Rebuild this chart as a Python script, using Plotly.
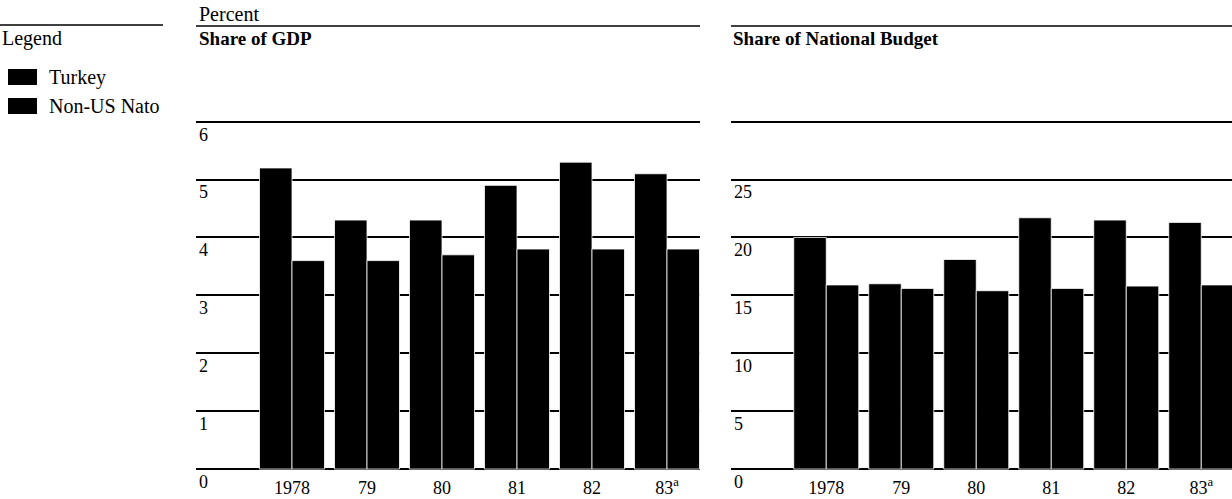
import plotly.graph_objects as go

years = ["1978", "79", "80", "81", "82", "83<sup>a</sup>"]
gdp_turkey = [5.2, 4.3, 4.3, 4.9, 5.3, 5.1]
gdp_nato = [3.6, 3.6, 3.7, 3.8, 3.8, 3.8]
budget_turkey = [20.0, 16.0, 18.1, 21.7, 21.5, 21.3]
budget_nato = [15.9, 15.6, 15.4, 15.6, 15.8, 15.9]

gdp_ticks = [0, 1, 2, 3, 4, 5, 6]
gdp_ticktext = ["0", "1", "2", "3", "4", "5", "6"]
budget_ticks = [0, 5, 10, 15, 20, 25]
budget_ticktext = ["0", "5", "10", "15", "20", "25"]
budget_unlabeled_grid = [30]

series_names = ["Turkey", "Non-US Nato"]

W, H = 1232, 499
FONT = "Liberation Serif"

fig = go.Figure()
bar_line = dict(color="white", width=0.8)
fig.add_trace(go.Bar(x=years, y=gdp_turkey, name=series_names[0], marker=dict(color="black", line=bar_line),
                     xaxis="x", yaxis="y"))
fig.add_trace(go.Bar(x=years, y=gdp_nato, name=series_names[1], marker=dict(color="black", line=bar_line),
                     xaxis="x", yaxis="y"))
fig.add_trace(go.Bar(x=years, y=budget_turkey, name=series_names[0], marker=dict(color="black", line=bar_line),
                     xaxis="x2", yaxis="y2"))
fig.add_trace(go.Bar(x=years, y=budget_nato, name=series_names[1], marker=dict(color="black", line=bar_line),
                     xaxis="x2", yaxis="y2"))

ydom = [1 - 470.8 / H, 1 - 119.9 / H]
common_x = dict(type="category", showgrid=False, zeroline=False, showline=False, ticks="",
                tickfont=dict(family=FONT, size=18, color="black"), automargin=False,
                ticklabelstandoff=4)
common_y = dict(showgrid=True, gridcolor="black", gridwidth=1.5, zeroline=False, showline=False,
                ticks="", ticklabelposition="inside bottom", ticklabeloverflow="allow",
                tickfont=dict(family=FONT, size=18, color="black"), automargin=False)

# legend drawn as swatches + labels (paper coordinates)
legend_shapes = []
legend_annos = [dict(text="Legend", x=0, y=1 - 39 / H, xref="paper", yref="paper",
                     xanchor="left", yanchor="middle", showarrow=False,
                     font=dict(family=FONT, size=20, color="black"))]
for i, nm in enumerate(series_names):
    yc = 77 + i * 29
    legend_shapes.append(dict(type="rect", xref="paper", yref="paper",
                              x0=8 / W, x1=37 / W, y0=1 - (yc + 8) / H, y1=1 - (yc - 8) / H,
                              fillcolor="black", line=dict(width=0)))
    legend_annos.append(dict(text=nm, x=47 / W, y=1 - yc / H, xref="paper", yref="paper",
                             xanchor="left", yanchor="middle", showarrow=False,
                             font=dict(family=FONT, size=20, color="black")))

fig.update_layout(
    width=W, height=H, template="none",
    paper_bgcolor="white", plot_bgcolor="white",
    margin=dict(l=0, r=0, t=0, b=0),
    barmode="group", bargap=0.133, bargroupgap=0,
    showlegend=False,
    xaxis=dict(domain=[196 / W, 700 / W], range=[-1.28, 5.44], anchor="y", **common_x),
    yaxis=dict(domain=ydom, range=[-0.03, 6.03], tickvals=gdp_ticks, ticktext=gdp_ticktext, anchor="x", **common_y),
    xaxis2=dict(domain=[731 / W, 1.0], range=[-1.27, 5.41], anchor="y2", **common_x),
    yaxis2=dict(domain=ydom, range=[-0.15, 30.15], tickvals=budget_ticks, ticktext=budget_ticktext, anchor="x2",
                minor=dict(tickvals=budget_unlabeled_grid, showgrid=True, gridcolor="black", gridwidth=1.5, ticks=""),
                **common_y),
    annotations=legend_annos + [
        dict(text="Percent", x=197 / W, y=1 - 14 / H, xref="paper", yref="paper",
             xanchor="left", yanchor="middle", showarrow=False,
             font=dict(family=FONT, size=20, color="black")),
        dict(text="<b>Share of GDP</b>", x=197 / W, y=1 - 39 / H, xref="paper", yref="paper",
             xanchor="left", yanchor="middle", showarrow=False,
             font=dict(family=FONT, size=19, color="black")),
        dict(text="<b>Share of National Budget</b>", x=731 / W, y=1 - 39 / H, xref="paper", yref="paper",
             xanchor="left", yanchor="middle", showarrow=False,
             font=dict(family=FONT, size=19, color="black")),
    ],
    shapes=legend_shapes + [
        dict(type="line", xref="paper", yref="paper", x0=0, x1=163 / W, y0=1 - 25 / H, y1=1 - 25 / H,
             line=dict(color="black", width=1.5)),
        dict(type="line", xref="paper", yref="paper", x0=196 / W, x1=700 / W, y0=1 - 26 / H, y1=1 - 26 / H,
             line=dict(color="black", width=1.5)),
        dict(type="line", xref="paper", yref="paper", x0=731 / W, x1=1.0, y0=1 - 26 / H, y1=1 - 26 / H,
             line=dict(color="black", width=1.5)),
    ],
)

fig.write_html("out.html", config={"displayModeBar": False},
               post_script="document.body.style.margin='0px';")
